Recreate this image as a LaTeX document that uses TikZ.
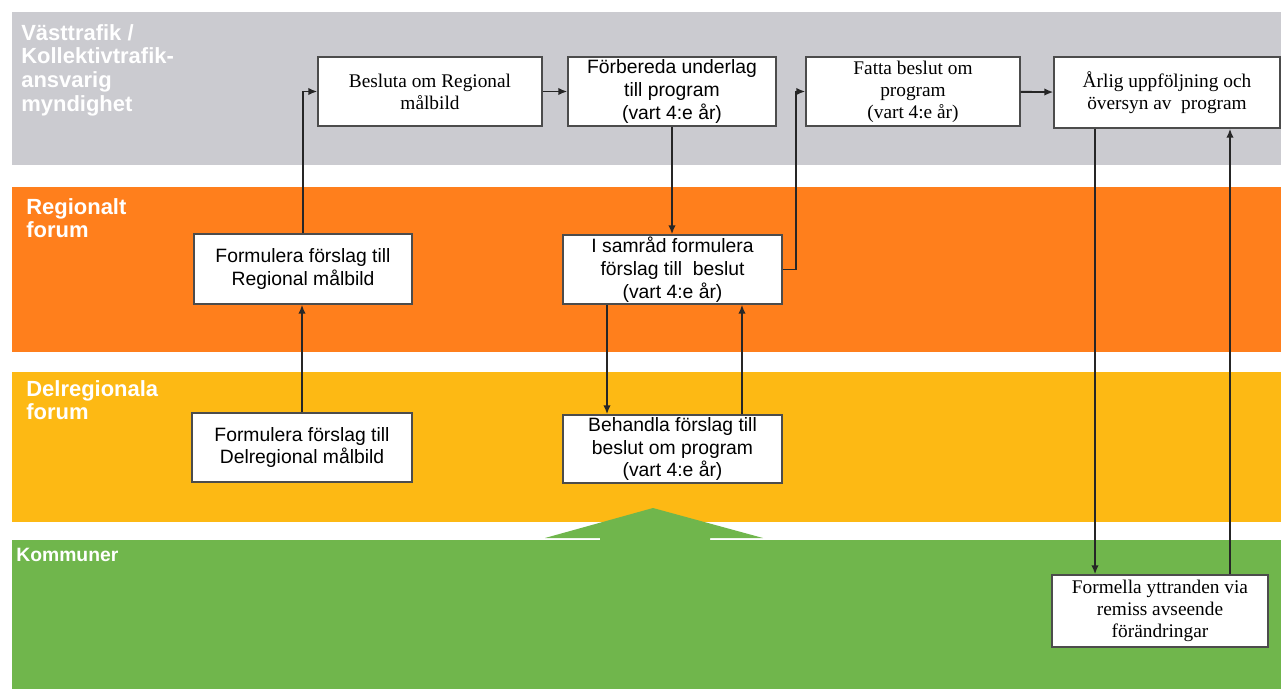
\documentclass[tikz,border=0pt]{standalone}
\usepackage{fontspec}
\setmainfont{Liberation Sans}
\newfontfamily\timesfont{Liberation Serif}
\usetikzlibrary{arrows.meta}

\definecolor{lanegray}{RGB}{203,203,208}
\definecolor{laneorange}{RGB}{255,127,28}
\definecolor{laneyellow}{RGB}{253,185,20}
\definecolor{lanegreen}{RGB}{112,182,76}

\tikzset{
  box/.style={draw=black!70, line width=0.8pt, fill=white, align=center, inner sep=1pt,
    font=\fontsize{11}{13}\selectfont},
  tbox/.style={box, font=\fontsize{11}{12.5}\selectfont\timesfont},
  lanelabel/.style={anchor=north west, align=left, inner sep=0pt, text=white,
    font=\fontsize{12.5}{13.5}\selectfont\bfseries},
  flow/.style={line width=1.1pt, black!85, -{Latex[length=1.8mm,width=1.5mm]}}
}

\begin{document}
\begin{tikzpicture}[x=0.02cm, y=-0.02cm]

\useasboundingbox (0,0) rectangle (1281,689);

% lanes
\fill[lanegray]   (12,12)  rectangle (1281,165);
\fill[laneorange] (12,187) rectangle (1281,352);
\fill[laneyellow] (12,372) rectangle (1281,522);
\fill[lanegreen]  (12,540) rectangle (1281,689);

\node[lanelabel] (vt) at (21,24) {V\"asttrafik /\\Kollektivtrafik-\\ansvarig\\myndighet};
\node[lanelabel] (rf) at (26,198) {Regionalt\\forum};
\node[lanelabel] (df) at (26,380) {Delregionala\\forum};
\node[lanelabel, font=\fontsize{11}{13}\selectfont\bfseries] (km) at (16,548) {Kommuner};

% big arrow from kommuner
\fill[lanegreen] (600,541) -- (600,538) -- (545,538) -- (653,508) -- (763,538)
  -- (710,538) -- (710,541) -- cycle;

% boxes
\node[tbox, minimum width=4.48cm, minimum height=1.38cm] (besluta) at (430,91.5)
  {Besluta om Regional\\m\aa lbild};
\node[box, minimum width=4.16cm, minimum height=1.38cm] (forbereda) at (672,91.5)
  {F\"orbereda underlag\\till program\\(vart 4:e \aa r)};
\node[tbox, minimum width=4.28cm, minimum height=1.38cm] (fatta) at (913,91.5)
  {Fatta beslut om\\program\\(vart 4:e \aa r)};
\node[tbox, minimum width=4.52cm, minimum height=1.42cm] (arlig) at (1167,92.5)
  {\AA rlig uppf\"oljning och\\\"oversyn av\ \ program};

\node[box, minimum width=4.36cm, minimum height=1.40cm] (formreg) at (303,269)
  {Formulera f\"orslag till\\Regional m\aa lbild};
\node[box, minimum width=4.38cm, minimum height=1.38cm] (samrad) at (672.5,269.5)
  {I samr\aa d formulera\\f\"orslag till\ \ beslut\\(vart 4:e \aa r)};

\node[box, minimum width=4.40cm, minimum height=1.38cm] (formdel) at (302,447.5)
  {Formulera f\"orslag till\\Delregional m\aa lbild};
\node[box, minimum width=4.38cm, minimum height=1.36cm] (behandla) at (672.5,449)
  {Behandla f\"orslag till\\beslut om program\\(vart 4:e \aa r)};

\node[tbox, minimum width=4.32cm, minimum height=1.44cm] (formella) at (1160,611)
  {Formella yttranden via\\remiss avseende\\f\"or\"andringar};

% connectors
\draw[flow] (formdel.north) -- (formdel.north |- formreg.south);
\draw[flow] (formreg.north) |- (besluta.west);
\draw[flow] (besluta) -- (forbereda);
\draw[flow] (forbereda.south) -- (forbereda.south |- samrad.north);
\draw[flow] (samrad.east) -- ++(13,0) |- (fatta.west);
\draw[flow] (fatta) -- (arlig);

\coordinate (s1) at ([xshift=-1.31cm]samrad.south);
\coordinate (b1) at ([xshift=1.39cm]behandla.north);
\draw[flow] (s1) -- (s1 |- behandla.north);
\draw[flow] (b1) -- (b1 |- samrad.south);

\coordinate (a1) at ([xshift=-1.44cm]arlig.south);
\coordinate (f1) at ([xshift=1.40cm]formella.north);
\draw[flow] (a1) -- (a1 |- formella.north);
\draw[flow] (f1) -- (f1 |- arlig.south);

\end{tikzpicture}
\end{document}
